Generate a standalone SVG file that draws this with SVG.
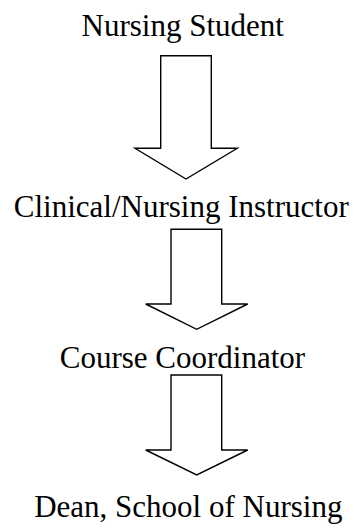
<svg xmlns="http://www.w3.org/2000/svg" width="356" height="529" viewBox="0 0 356 529">
<style>
text{font-family:'Liberation Serif','DejaVu Serif',serif;font-size:31px;fill:#000;text-anchor:middle}
.arr{fill:#fff;stroke:#000;stroke-width:1.4;stroke-linejoin:miter}
</style>
<rect width="356" height="529" fill="#fff"/>
<g id="n1"><text font-family="Liberation Serif, serif" x="182.7" y="36">Nursing Student</text></g>
<g id="n2"><text font-family="Liberation Serif, serif" x="181.3" y="217.3">Clinical/Nursing Instructor</text></g>
<g id="n3"><text font-family="Liberation Serif, serif" x="182.5" y="367.7">Course Coordinator</text></g>
<g id="n4"><text font-family="Liberation Serif, serif" x="188.3" y="517.3">Dean, School of Nursing</text></g>
<g id="connectors">
<path class="arr" d="M160.7,55.7 H211.3 V148.3 H237.3 L186,179 L135,148.3 H160.7 Z"/>
<path class="arr" d="M171,229.3 H221.7 V304 H247.7 L196.7,329.3 L145.7,304 H171 Z"/>
<path class="arr" d="M171,375 H221.7 V450 H247.7 L196.7,475 L145.7,450 H171 Z"/>
</g>
</svg>
